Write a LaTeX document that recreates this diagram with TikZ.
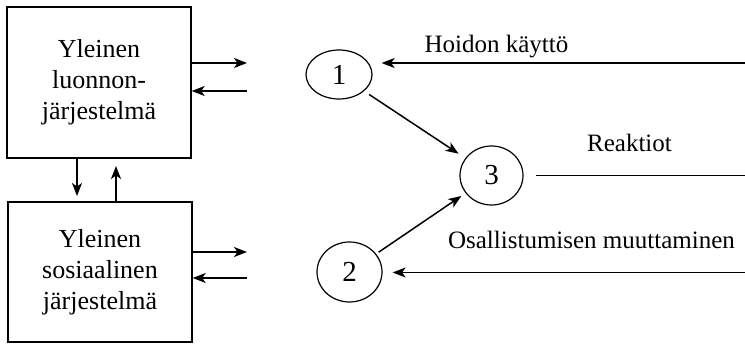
\documentclass[tikz,border=0pt]{standalone}
\usepackage{fontspec}
\setmainfont{Liberation Serif}
\usetikzlibrary{arrows.meta,shapes.geometric}
\begin{document}
\begin{tikzpicture}[x=1pt,y=-1pt,
  sysbox/.style={draw, line width=1.4pt, minimum width=184pt, inner sep=0pt,
    align=center, font=\fontsize{26}{31}\selectfont},
  state/.style={draw, ellipse, line width=1.2pt, inner sep=0pt,
    font=\fontsize{29}{32}\selectfont},
  flow/.style={line width=1.5pt, -{Stealth[length=13pt,width=10pt,inset=3.5pt]}},
  plain/.style={line width=1.5pt},
  lbl/.style={font=\fontsize{25}{28}\selectfont}]
\useasboundingbox (0,0) rectangle (745,344);

% system boxes
\node[sysbox, minimum height=151pt] (nat) at (99,82.5)
  {Yleinen\\luonnon-\\järjestelmä};
\node[sysbox, minimum height=140pt] (soc) at (100,272)
  {Yleinen\\sosiaalinen\\järjestelmä};

% numbered states
\node[state, minimum width=66pt, minimum height=49pt] (s1) at (339,74.5) {1};
\node[state, minimum width=65pt, minimum height=60pt] (s2) at (349.5,272) {2};
\node[state, minimum width=63pt, minimum height=59pt] (s3) at (491.5,175.5) {3};

% open ends of the exchange arrows
\coordinate (natout) at (247,63);
\coordinate (natin)  at (247,91);
\coordinate (socout) at (247,252);
\coordinate (socin)  at (247,278);
\coordinate (down)   at (77,196);
\coordinate (up)     at (116,166);
\coordinate (care)   at (745,63);
\coordinate (react)  at (745,175.5);
\coordinate (part)   at (745,272.5);

% exchanges of the systems
\draw[flow] (nat.east |- natout) -- (natout);
\draw[flow] (natin) -- (nat.east |- natin);
\draw[flow] (soc.east |- socout) -- (socout);
\draw[flow] (socin) -- (soc.east |- socin);
\draw[flow] (nat.south -| down) -- (down);
\draw[flow] (soc.north -| up) -- (up);

% flows between the states
\draw[flow, shorten <=6pt, shorten >=8pt] (s1) -- (s3);
\draw[flow, shorten <=3pt, shorten >=5pt] (s2) -- (s3);
\draw[flow, shorten >=9pt] (care) -- (s1.east |- care);
\draw[plain, shorten <=12pt] (s3.east) -- (react);
\draw[flow, shorten >=10pt] (part) -- (s2.east |- part);

% flow labels
\node[lbl] (lcare)  at (496.5,47) {Hoidon käyttö};
\node[lbl] (lreact) at (629.5,143) {Reaktiot};
\node[lbl] (lpart)  at (591.5,240) {Osallistumisen muuttaminen};
\end{tikzpicture}
\end{document}
